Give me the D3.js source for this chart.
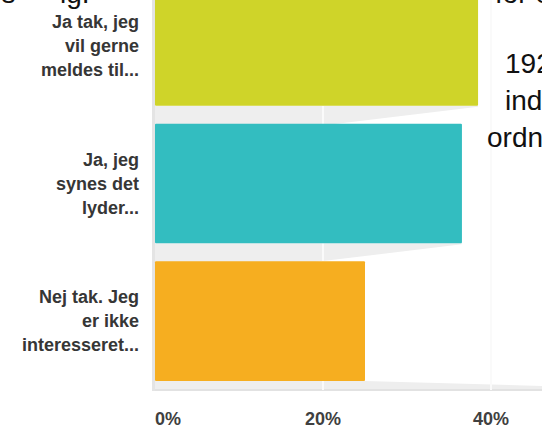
<!DOCTYPE html>
<html><head><meta charset="utf-8">
<script src="https://cdn.jsdelivr.net/npm/d3@7"></script>
<style>html,body{margin:0;padding:0;background:#fff;overflow:hidden}</style>
</head><body>
<script>
const categories = ["Ja tak, jeg vil gerne meldes til...", "Ja, jeg synes det lyder...", "Nej tak. Jeg er ikke interesseret..."];
const labelLines = [["Ja tak, jeg","vil gerne","meldes til..."],["Ja, jeg","synes det","lyder..."],["Nej tak. Jeg","er ikke","interesseret..."]];
const values = [38.46, 36.54, 25.00];
const colors = ["#cfd429", "#33bdc0", "#f6ae20"];
const tickValues = [0, 20, 40];
const sideText = ["192 tilmeldte", "indtil nu i", "ordningen"];
const topLeftText = ["os", "ig."];
const topRightText = "for om";

const W = 542, H = 428;
const svg = d3.select("body").append("svg").attr("width", W).attr("height", H)
  .style("font-family", "'Liberation Sans', Arial, sans-serif");

const x = d3.scaleLinear().domain([0, 100]).range([155, 995]);
const y = d3.scaleBand().domain(categories).range([-14, 381]).paddingInner(0.13).paddingOuter(0);

// row shadows / floor
const g = svg.append("g");
categories.forEach((c, i) => {
  const b = y(c) + y.bandwidth();
  const x0 = x(0), xe = x(values[i]);
  if (i < categories.length - 1) {
    g.append("path").attr("fill", "#eeeeee")
      .attr("d", d3.line()([[x0, b], [xe, b], [xe, b + 1], [x0, b + 1 + 0.12 * (xe - x0)]]) + "Z");
  } else {
    g.append("path").attr("fill", "#eeeeee")
      .attr("d", d3.line()([[x0, b], [xe, b], [W, b + 5], [W, b + 9], [x0, b + 9]]) + "Z");
    g.append("rect").attr("x", x0).attr("y", b + 8).attr("width", W - x0).attr("height", 2).attr("fill", "#e2e2e2");
  }
});

// gridlines
svg.append("g").selectAll("line").data(tickValues.filter(d => d > 0)).join("line")
  .attr("x1", d => x(d)).attr("x2", d => x(d)).attr("y1", 0).attr("y2", 390)
  .attr("stroke", "#fafafa").attr("stroke-width", 2);

// axis line
svg.append("rect").attr("x", x(0) - 3).attr("y", 0).attr("width", 3).attr("height", 391).attr("fill", "#e4e4e4");

// bars
svg.append("g").selectAll("rect").data(categories).join("rect")
  .attr("x", x(0)).attr("y", d => y(d))
  .attr("width", (d, i) => x(values[i]) - x(0))
  .attr("height", y.bandwidth())
  .attr("rx", 1)
  .attr("fill", (d, i) => colors[i]);

// category labels
const lab = svg.append("g");
categories.forEach((c, i) => {
  const cy = y(c) + y.bandwidth() / 2;
  const t = lab.append("text").attr("text-anchor", "end").attr("fill", "#363636")
    .attr("font-size", 18).attr("font-weight", "bold");
  labelLines[i].forEach((ln, j) => {
    t.append("tspan").attr("x", 139).attr("y", cy + 6 + (j - 1) * 24).text(ln);
  });
});

// x tick labels
svg.append("g").selectAll("text").data(tickValues).join("text")
  .attr("x", d => x(d)).attr("y", 425)
  .attr("text-anchor", d => d === 0 ? "start" : "middle")
  .attr("font-size", 18).attr("font-weight", "bold").attr("fill", "#404040")
  .text(d => d + "%");

// side texts (cropped)
svg.append("text").attr("x", 505).attr("y", 73).attr("font-size", 28).attr("fill", "#111").text(sideText[0]);
svg.append("text").attr("x", 505).attr("y", 110).attr("font-size", 28).attr("fill", "#111").text(sideText[1]);
svg.append("text").attr("x", 487).attr("y", 147).attr("font-size", 28).attr("fill", "#111").text(sideText[2]);
const tl = svg.append("text").attr("y", 3).attr("font-size", 28).attr("fill", "#111");
tl.append("tspan").attr("x", -14).text(topLeftText[0]);
tl.append("tspan").attr("x", 60).text(topLeftText[1]);
svg.append("text").attr("x", 495).attr("y", 3).attr("font-size", 28).attr("fill", "#111").text(topRightText);
</script>
</body></html>
